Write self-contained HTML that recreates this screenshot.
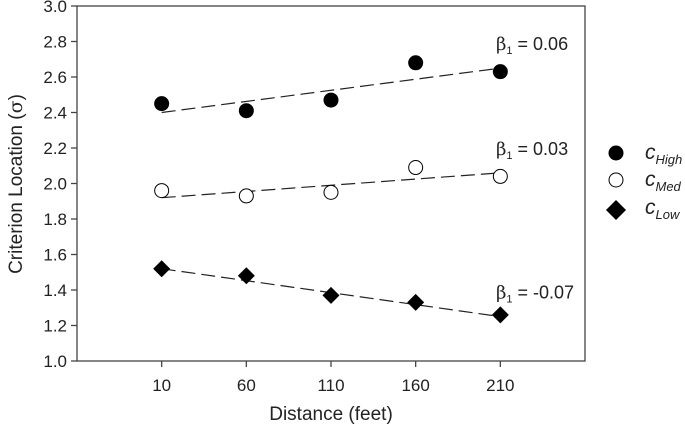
<!DOCTYPE html>
<html><head><meta charset="utf-8"><style>
body{margin:0;background:#fff}
svg text{font-family:"Liberation Sans",sans-serif;fill:#222}
</style></head><body>
<svg id="chart" width="685" height="435">
<g id="axes"></g><g id="marks"></g>
<text x="22" y="184" font-size="19" text-anchor="middle" transform="rotate(-90 22 184)">Criterion Location (<tspan font-family="DejaVu Serif">σ</tspan>)</text>
<text x="331" y="420" font-size="19" text-anchor="middle">Distance (feet)</text>
<g>
<circle cx="616" cy="153" r="7.5" fill="#000"/>
<text x="645" y="159" font-size="21" font-style="italic">c<tspan font-size="13" dy="5">High</tspan></text>
<circle cx="616" cy="180" r="7" fill="#fff" stroke="#000" stroke-width="1"/>
<text x="645" y="186" font-size="21" font-style="italic">c<tspan font-size="13" dy="5">Med</tspan></text>
<path d="M616 200 L626 210 L616 220 L606 210Z" fill="#000"/>
<text x="645" y="214" font-size="21" font-style="italic">c<tspan font-size="13" dy="5">Low</tspan></text>
</g>
</svg>
<script>
const categories=[10,60,110,160,210];
const highValues=[2.45,2.41,2.47,2.68,2.63];
const medValues=[1.96,1.93,1.95,2.09,2.04];
const lowValues=[1.52,1.48,1.37,1.33,1.26];
const highFit=[2.40,2.65];
const medFit=[1.92,2.06];
const lowFit=[1.52,1.25];
const slopeLabels=["β1 = 0.06","β1 = 0.03","β1 = -0.07"];
const yTicks=[1.0,1.2,1.4,1.6,1.8,2.0,2.2,2.4,2.6,2.8,3.0];
const NS="http://www.w3.org/2000/svg";
const L=77,R=585,T=6,B=361;
const xs=v=>L+(v+40)/300*(R-L);
const ys=v=>B-(v-1)/2*(B-T);
function mk(tag,attrs,parent){const e=document.createElementNS(NS,tag);for(const k in attrs)e.setAttribute(k,attrs[k]);parent.appendChild(e);return e;}
const ax=document.getElementById('axes'),mg=document.getElementById('marks');
let f=mk('rect',{x:L,y:T,width:R-L,height:B-T,fill:'none',stroke:'#444','stroke-width':1.3},ax);


yTicks.forEach(t=>{
 let l=mk('line',{x1:L-6,x2:L,y1:ys(t),y2:ys(t),stroke:'#444','stroke-width':1.3},ax);
 
 
 let tx=mk('text',{x:L-10,y:ys(t)+6,'font-size':17,'text-anchor':'end'},ax);tx.textContent=t.toFixed(1);
 
 
});
categories.forEach(c=>{
 let l=mk('line',{x1:xs(c),x2:xs(c),y1:B,y2:B+6,stroke:'#444','stroke-width':1.3},ax);
 
 
 let tx=mk('text',{x:xs(c),y:B+30,'font-size':17,'text-anchor':'middle'},ax);tx.textContent=c;
 
 
});
const series=[[highValues,highFit,'high'],[medValues,medFit,'med'],[lowValues,lowFit,'low']];
series.forEach(([vals,fit,name],i)=>{
 let ln=mk('line',{x1:xs(categories[0]),x2:xs(categories[4]),y1:ys(fit[0]),y2:ys(fit[1]),stroke:'#222','stroke-width':1.2,'stroke-dasharray':'14,6'},mg);
 
 
 vals.forEach((v,j)=>{
  const x=xs(categories[j]),y=ys(v);let m;
  if(name==='high')m=mk('circle',{cx:x,cy:y,r:7.5,fill:'#000'},mg);
  else if(name==='med')m=mk('circle',{cx:x,cy:y,r:7,fill:'#fff',stroke:'#000','stroke-width':1},mg);
  else m=mk('path',{d:`M${x} ${y-8.5}L${x+8.5} ${y}L${x} ${y+8.5}L${x-8.5} ${y}Z`,fill:'#000'},mg);
  
  
 });
 const parts=slopeLabels[i].split('1');
 let t=mk('text',{x:496,y:ys(fit[1])-18,'font-size':18},mg);
 t.innerHTML=`<tspan font-family="DejaVu Serif">β</tspan><tspan font-size="11" dy="4">1</tspan><tspan dy="-4">${parts[1]}</tspan>`;
 
 
});
</script>
</body></html>
